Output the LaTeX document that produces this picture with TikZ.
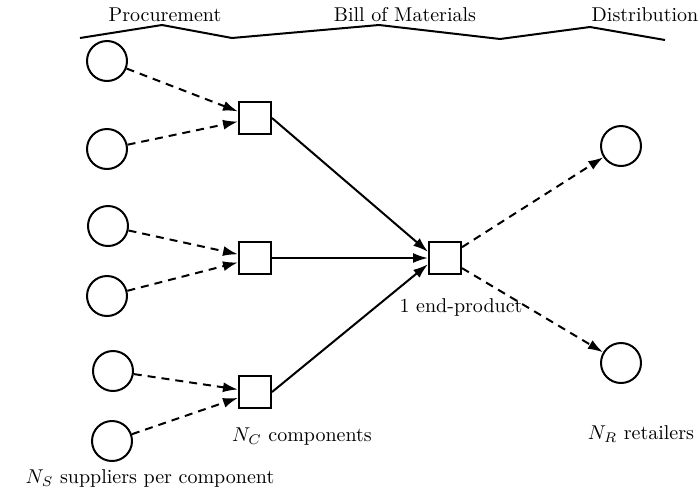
\documentclass[tikz,border=0pt]{standalone}
\usepackage{amsmath}
\usepackage{amssymb}
\usetikzlibrary{arrows.meta}

\begin{document}
\begin{tikzpicture}[x=0.5pt,y=-0.5pt,line width=1pt,
    supplier/.style={circle,draw,minimum size=20pt,inner sep=0pt},
    part/.style={rectangle,draw,minimum size=16pt,inner sep=0pt},
    flow/.style={-{Latex[length=7.5pt,width=5pt]}},
    ship/.style={flow,dash pattern=on 4pt off 3pt}]
    \useasboundingbox (0,0) rectangle (699,493);
    % stages
    \node at (165,15) (proc) {Procurement};
    \node at (405,15) (bom) {Bill of Materials};
    \node at (645,15) (dist) {Distribution};
    \draw (80,38) -- (162,25) -- (232,38) -- (379,25) -- (500,39) -- (590,27) -- (665,40);
    % suppliers
    \node at (107,61) [supplier] (s1) {};
    \node at (107,149) [supplier] (s2) {};
    \node at (108,226) [supplier] (s3) {};
    \node at (107,296) [supplier] (s4) {};
    \node at (113,371) [supplier] (s5) {};
    \node at (112,441) [supplier] (s6) {};
    % components and end-product
    \node at (255,118) [part] (c1) {};
    \node at (255,258) [part] (c2) {};
    \node at (255,392) [part] (c3) {};
    \node at (445,258) [part] (e) {};
    % retailers
    \node at (621,146) [supplier] (r1) {};
    \node at (621,363) [supplier] (r2) {};
    \node at (461,307) (elabel) {1 end-product};
    \node at (302,437) (clabel) {$N_C$ components};
    \node at (641,434) (rlabel) {$N_R$ retailers};
    \node at (150,478) (slabel) {$N_S$ suppliers per component};
    \draw[ship] (s1) -- (c1); \draw[ship] (s2) -- (c1);
    \draw[ship] (s3) -- (c2); \draw[ship] (s4) -- (c2);
    \draw[ship] (s5) -- (c3); \draw[ship] (s6) -- (c3);
    \draw[flow] (c1.east) -- (e.160);
    \draw[flow] (c2.east) -- (e.west);
    \draw[flow] (c3.east) -- (e.200);
    \draw[ship] (e) -- (r1); \draw[ship] (e) -- (r2);
\end{tikzpicture}
\end{document}
